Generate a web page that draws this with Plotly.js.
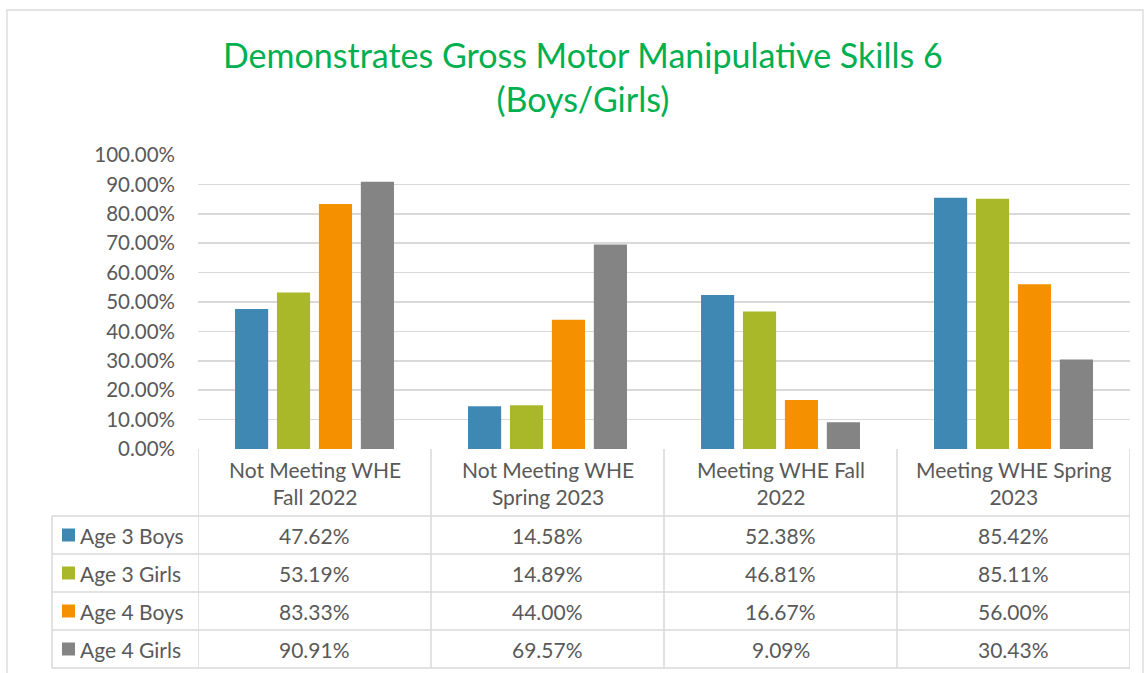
<!DOCTYPE html>
<html><head><meta charset="utf-8">
<script src="https://cdn.plot.ly/plotly-3.0.1.min.js"></script>
<style>html,body{margin:0;padding:0;background:#fff}#c{width:1145px;height:673px}</style>
</head><body><div id="c"></div>
<script>
const categories = ["Not Meeting WHE<br>Fall 2022","Not Meeting WHE<br>Spring 2023","Meeting WHE Fall<br>2022","Meeting WHE Spring<br>2023"];
const seriesNames = ["Age 3 Boys","Age 3 Girls","Age 4 Boys","Age 4 Girls"];
const age3Boys  = [0.4762, 0.1458, 0.5238, 0.8542];
const age3Girls = [0.5319, 0.1489, 0.4681, 0.8511];
const age4Boys  = [0.8333, 0.4400, 0.1667, 0.5600];
const age4Girls = [0.9091, 0.6957, 0.0909, 0.3043];
const colors = ["#4088b4","#a8b829","#f59100","#848484"];
const seriesValues = [age3Boys, age3Girls, age4Boys, age4Girls];

const W=1145,H=673, L=198, R=15, T=155, B=224;
const pw=W-L-R, ph=H-T-B;
const px2x = p => (p-L)/pw;
const py2y = p => (H-B-p)/ph;
const grid="#d9d9d9", txt="#595959", font="Lato, 'Open Sans', sans-serif";
const tfs=21;

const xIdx=[0,1,2,3];
const traces = seriesValues.map((v,i)=>({
  type:'bar', x:xIdx, y:v, name:seriesNames[i],
  marker:{color:colors[i]}, hoverinfo:'y'
}));

const shapes=[], annotations=[];
shapes.push({type:'rect',xref:'paper',yref:'paper',x0:px2x(7),x1:px2x(1143),y0:py2y(690),y1:py2y(10),line:{color:grid,width:1.3}});
const headerTop=449, headerBot=516, rowH=38;
const rowLines=[headerBot, headerBot+rowH, headerBot+2*rowH, headerBot+3*rowH, headerBot+4*rowH];
rowLines.forEach(y=>shapes.push({type:'line',xref:'paper',yref:'paper',x0:px2x(52),x1:1,y0:py2y(y),y1:py2y(y),line:{color:grid,width:1.5}}));
[-0.5,0.5,1.5,2.5,3.5].forEach(x=>shapes.push({type:'line',xref:'x',yref:'paper',x0:x,x1:x,y0:py2y(headerTop),y1:py2y(rowLines[4]),line:{color:grid,width:1.5}}));
shapes.push({type:'line',xref:'paper',yref:'paper',x0:px2x(52),x1:px2x(52),y0:py2y(headerBot),y1:py2y(rowLines[4]),line:{color:grid,width:1.5}});
categories.forEach((c,j)=>annotations.push({xref:'x',yref:'paper',x:j,y:py2y((headerTop+headerBot)/2),text:c,showarrow:false,yanchor:'middle',xanchor:'center',font:{family:font,size:tfs,color:txt}}));
seriesNames.forEach((n,i)=>{
  const yc=py2y(headerBot+rowH*i+rowH/2);
  shapes.push({type:'rect',xref:'paper',yref:'paper',x0:px2x(62),x1:px2x(75),y0:yc-6.5/ph,y1:yc+6.5/ph,fillcolor:colors[i],line:{width:0}});
  annotations.push({xref:'paper',yref:'paper',x:px2x(78),y:yc,text:n,showarrow:false,xanchor:'left',yanchor:'middle',font:{family:font,size:tfs,color:txt}});
  seriesValues[i].forEach((v,j)=>annotations.push({xref:'x',yref:'paper',x:j,y:yc,text:(v*100).toFixed(2)+'%',showarrow:false,xanchor:'center',yanchor:'middle',font:{family:font,size:tfs,color:txt}}));
});

const layout={
  width:W,height:H,margin:{l:L,r:R,t:T,b:B},
  paper_bgcolor:'#fff',plot_bgcolor:'#fff',
  title:{text:'Demonstrates Gross Motor Manipulative Skills 6<br>(Boys/Girls)',xref:'container',yref:'container',x:0.509,xanchor:'center',y:1-68/H,yanchor:'middle',font:{family:font,size:34,color:'#00b050'}},
  showlegend:false,
  bargap:0.28,bargroupgap:0.21,barmode:'group',
  xaxis:{type:'linear',range:[-0.5,3.5],showticklabels:false,showgrid:false,zeroline:false,showline:false,ticks:'',fixedrange:true},
  yaxis:{range:[0,1],dtick:0.1,tickformat:'.2%',gridcolor:grid,gridwidth:1.5,zeroline:false,showline:false,ticks:'',ticklabelstandoff:22,tickfont:{family:font,size:20.5,color:txt}},
  shapes:shapes,annotations:annotations
};
Plotly.newPlot('c',traces,layout,{displayModeBar:false,staticPlot:true});
</script></body></html>
